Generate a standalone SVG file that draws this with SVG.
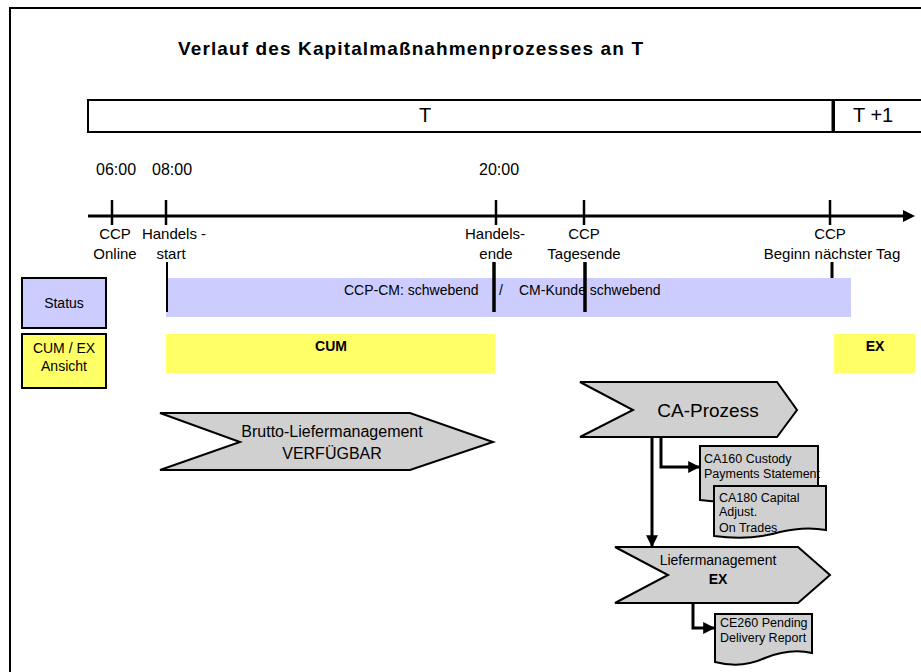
<svg xmlns="http://www.w3.org/2000/svg" width="921" height="672" viewBox="0 0 921 672">
  <defs>
    <style>
      text { font-family: "Liberation Sans", Arial, sans-serif; fill: #000; }
      .title { font-size: 19px; font-weight: bold; }
      .day { font-size: 20px; }
      .time { font-size: 16px; }
      .lbl { font-size: 15px; text-anchor: middle; }
      .band { font-size: 14px; }
      .bold { font-weight: bold; }
      .shape { fill: #d0d0d0; stroke: #000; stroke-width: 2; }
      .doc { fill: #d0d0d0; stroke: #000; stroke-width: 2; }
      .doctext { font-size: 12.5px; }
      .conn { fill: none; stroke: #000; stroke-width: 3; }
      .tick { stroke: #000; stroke-width: 2.5; }
    </style>
    <marker id="arr" viewBox="0 0 10 10" refX="9" refY="5" markerWidth="4" markerHeight="4" orient="auto" markerUnits="strokeWidth">
      <path d="M0,0 L10,5 L0,10 Z" fill="#000"/>
    </marker>
  </defs>

  <rect width="921" height="672" fill="#fff"/>

  <!-- page frame -->
  <path d="M10,672 V8 H921" fill="none" stroke="#000" stroke-width="2"/>

  <text class="title" x="178" y="55" textLength="465" lengthAdjust="spacing">Verlauf des Kapitalmaßnahmenprozesses an T</text>

  <!-- day bar -->
  <g id="day-bar">
    <rect x="88" y="100" width="746" height="32" fill="#fff" stroke="#000" stroke-width="2"/>
    <rect x="834" y="100" width="90" height="32" fill="#fff" stroke="#000" stroke-width="2"/>
    <line x1="833" y1="100" x2="833" y2="132" stroke="#000" stroke-width="3"/>
    <text class="day" x="425" y="122" text-anchor="middle">T</text>
    <text class="day" x="853" y="122">T +1</text>
  </g>

  <!-- timeline -->
  <g id="timeline">
    <text class="time" x="96" y="175">06:00</text>
    <text class="time" x="152" y="175">08:00</text>
    <text class="time" x="479" y="175">20:00</text>
    <line x1="88" y1="216" x2="905" y2="216" stroke="#000" stroke-width="3"/>
    <path d="M903,210 L915,216 L903,222 Z" fill="#000"/>
    <line class="tick" x1="112" y1="200" x2="112" y2="225"/>
    <line class="tick" x1="166" y1="200" x2="166" y2="225"/>
    <line class="tick" x1="496" y1="200" x2="496" y2="225"/>
    <line class="tick" x1="584" y1="200" x2="584" y2="225"/>
    <line class="tick" x1="830" y1="200" x2="830" y2="225"/>
    <text class="lbl" x="115" y="239">CCP</text>
    <text class="lbl" x="115" y="259">Online</text>
    <text class="lbl" x="174" y="239">Handels -</text>
    <text class="lbl" x="171" y="259">start</text>
    <text class="lbl" x="495" y="239">Handels-</text>
    <text class="lbl" x="496" y="259">ende</text>
    <text class="lbl" x="584" y="239">CCP</text>
    <text class="lbl" x="584" y="259">Tagesende</text>
    <text class="lbl" x="830" y="239">CCP</text>
    <text class="lbl" x="832" y="259">Beginn nächster Tag</text>
  </g>

  <!-- legend boxes -->
  <g id="status-legend">
    <rect x="22" y="278" width="84" height="50" fill="#ccccff" stroke="#000" stroke-width="2"/>
    <text x="64" y="308" font-size="14" text-anchor="middle">Status</text>
  </g>
  <g id="cumex-legend">
    <rect x="22" y="334" width="84" height="54" fill="#ffff66" stroke="#000" stroke-width="2"/>
    <text x="64" y="353" font-size="14" text-anchor="middle">CUM / EX</text>
    <text x="64" y="371" font-size="14" text-anchor="middle">Ansicht</text>
  </g>

  <!-- status band -->
  <g id="status-band">
    <rect x="166" y="278" width="685" height="39" fill="#ccccff"/>
    <text class="band" x="344" y="295" fill="#222">CCP-CM: schwebend</text>
    <text class="band" x="499" y="295" fill="#222">/</text>
    <text class="band" x="519" y="295" fill="#222">CM-Kunde schwebend</text>
  </g>

  <!-- CUM / EX bands -->
  <g id="cum-band">
    <rect x="166" y="334" width="329" height="39" fill="#ffff66"/>
    <text class="band bold" x="331" y="351" text-anchor="middle">CUM</text>
  </g>
  <g id="ex-band">
    <rect x="834" y="334" width="81" height="39" fill="#ffff66"/>
    <text class="band bold" x="875" y="351" text-anchor="middle">EX</text>
  </g>

  <!-- event markers through the status band -->
  <g id="markers">
    <line x1="167" y1="262" x2="167" y2="312" stroke="#000" stroke-width="2"/>
    <line x1="494" y1="262" x2="494" y2="312" stroke="#000" stroke-width="3.5"/>
    <line x1="585" y1="262" x2="585" y2="312" stroke="#000" stroke-width="3.5"/>
    <line x1="832" y1="262" x2="832" y2="278" stroke="#000" stroke-width="3"/>
  </g>

  <!-- process nodes -->
  <g id="brutto">
    <path class="shape" d="M160,413 H410 L493,442 L410,470 H160 L240,442 Z"/>
    <text x="332" y="437" font-size="16" text-anchor="middle">Brutto-Liefermanagement</text>
    <text x="332" y="459" font-size="16" text-anchor="middle">VERFÜGBAR</text>
  </g>

  <g id="ca-prozess">
    <path class="shape" d="M580,382 H777 L797,410 L777,437 H580 L633,410 Z"/>
    <text x="708" y="417" font-size="19" text-anchor="middle">CA-Prozess</text>
  </g>

  <g id="ca160">
    <path class="doc" d="M700,446 H818 V490 Q795,486 770,494 Q740,505 700,500 Z"/>
    <text class="doctext" x="704" y="463">CA160 Custody</text>
    <text class="doctext" x="704" y="478">Payments Statement</text>
  </g>

  <g id="ca180">
    <path class="doc" d="M714,486 H826 V530 Q805,526 780,532 Q750,541 714,536 Z"/>
    <text class="doctext" x="719" y="502">CA180 Capital</text>
    <text class="doctext" x="719" y="516">Adjust.</text>
    <text class="doctext" x="719" y="532">On Trades</text>
  </g>

  <g id="liefermanagement">
    <path class="shape" d="M615,547 H798 L830,575 L798,603 H615 L668,575 Z"/>
    <text x="718" y="565" font-size="14" text-anchor="middle">Liefermanagement</text>
    <text x="718" y="584" font-size="14" font-weight="bold" text-anchor="middle">EX</text>
  </g>

  <g id="ce260">
    <path class="doc" d="M715,614 H812 V653 Q790,648 765,658 Q742,669 715,662 Z"/>
    <text class="doctext" x="720" y="627">CE260 Pending</text>
    <text class="doctext" x="720" y="642">Delivery Report</text>
  </g>

  <!-- connectors -->
  <g id="connectors">
    <path class="conn" d="M652,437 V546" marker-end="url(#arr)"/>
    <path class="conn" d="M661,437 V467 H699" marker-end="url(#arr)"/>
    <path class="conn" d="M693,603 V628 H714" marker-end="url(#arr)"/>
  </g>
</svg>
